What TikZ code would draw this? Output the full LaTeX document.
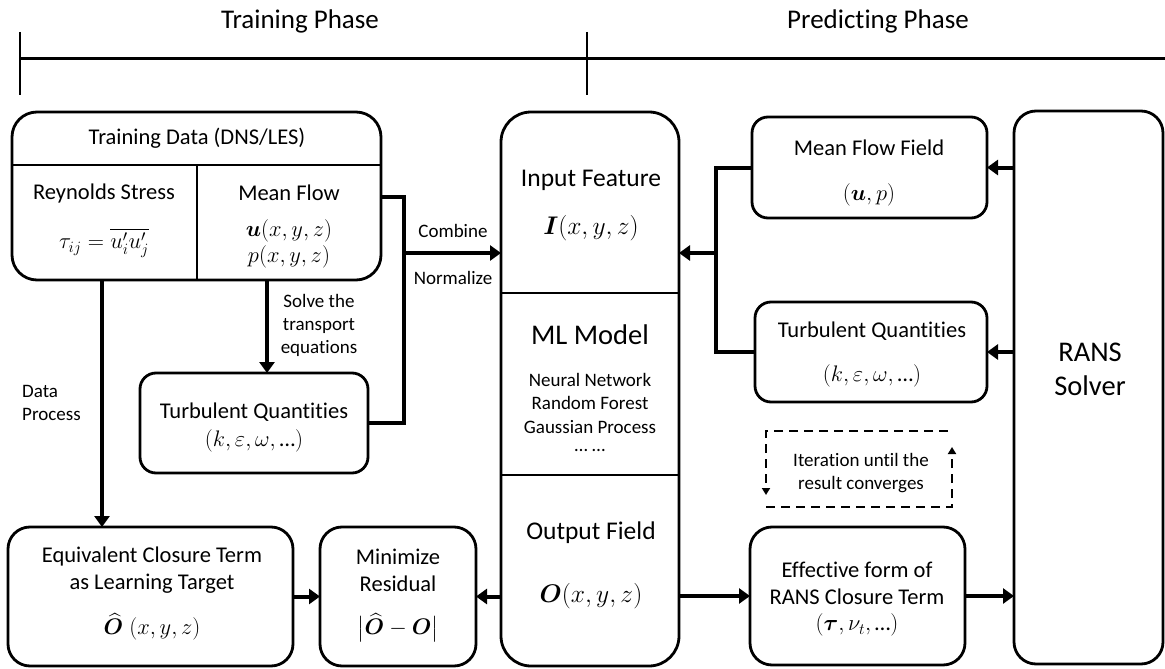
\RequirePackage{fix-cm}
\documentclass[tikz,border=0pt]{standalone}
\usepackage{amsmath}
\usepackage{bm}
\usepackage{fontspec}
\setmainfont{Carlito}[Ligatures=NoCommon]
\usetikzlibrary{arrows.meta}
\begin{document}
\begin{tikzpicture}[x=1pt,y=-1pt,
  box/.style={draw, line width=2.8pt, rounded corners=#1, inner sep=0pt, outer sep=0pt},
  box/.default=16pt,
  conn/.style={line width=4pt},
  arr/.style={line width=4pt, -{Triangle[length=11pt,width=15pt]}},
  div/.style={line width=2pt},
  dsh/.style={line width=2.5pt, dash pattern=on 9pt off 6pt, -{Triangle[length=7pt,width=8pt]}},
  lbl/.style={inner sep=0pt, align=center},
  tA/.style={font=\fontsize{19}{23}\selectfont},
  tB/.style={font=\fontsize{22.5}{27}\selectfont},
  tC/.style={font=\fontsize{25.5}{30}\selectfont},
  tD/.style={font=\fontsize{28.5}{34}\selectfont},
  tE/.style={font=\fontsize{27}{32}\selectfont}]
\useasboundingbox (0,0) rectangle (1165,669);

% timeline
\coordinate (tl) at (20,59);
\coordinate (tr) at (1165,59);
\coordinate (t1a) at (20,32);
\coordinate (t1b) at (20,95);
\coordinate (t2a) at (587,32);
\coordinate (t2b) at (587,95);
\draw[line width=3pt] (tl) -- (tr);
\draw[line width=1.6pt] (t1a) -- (t1b);
\draw[line width=1.6pt] (t2a) -- (t2b);
\node[lbl,tE] (trainph) at (300,21) {Training Phase};
\node[lbl,tE] (predph) at (878,21) {Predicting Phase};

% boxes
\node[box=25pt, minimum width=369pt, minimum height=168pt] (td) at (196.5,196) {};
\node[box=30pt, minimum width=178pt, minimum height=554pt] (inbox) at (590,389) {};
\node[box=16pt, minimum width=235pt, minimum height=101pt] (mff) at (869.5,167.5) {};
\node[box=16pt, minimum width=232pt, minimum height=100pt] (tqr) at (871,352) {};
\node[box=22pt, minimum width=149pt, minimum height=553pt] (rans) at (1088.5,387.5) {};
\node[box=16pt, minimum width=228pt, minimum height=100pt] (tql) at (254,423) {};
\node[box=22pt, minimum width=285pt, minimum height=139pt] (eq) at (150.5,596.5) {};
\node[box=22pt, minimum width=156pt, minimum height=139pt] (mn) at (398,596.5) {};
\node[box=22pt, minimum width=215pt, minimum height=138pt] (eff) at (857.5,596) {};

% dividers
\coordinate (h1) at (0,165);
\coordinate (v1) at (197,0);
\coordinate (h2) at (0,293);
\coordinate (h3) at (0,475);
\draw[div] (td.west |- h1) -- (td.east |- h1);
\draw[div] (v1 |- h1) -- (v1 |- td.south);
\draw[div] (inbox.west |- h2) -- (inbox.east |- h2);
\draw[div] (inbox.west |- h3) -- (inbox.east |- h3);

% texts: training data
\node[lbl,tB] (tdh) at (197,138) {Training Data (DNS/LES)};
\node[lbl,tB] (rs) at (104,193) {Reynolds Stress};
\node[lbl,tB] (rsm) at (104,243) {$\tau_{ij}=\overline{u_i'u_j'}$};
\node[lbl,tB] (mf) at (289,193) {Mean Flow};
\node[lbl,tB] (mf1) at (289,231) {$\bm{u}(x,y,z)$};
\node[lbl,tB] (mf2) at (289,257) {$p(x,y,z)$};

% input / ML / output
\node[lbl,tC] (inf) at (591,180) {Input Feature};
\node[lbl,tC] (infm) at (591,228) {$\bm{I}(x,y,z)$};
\node[lbl,tD] (mlm) at (590,335) {ML Model};
\node[lbl,tA] (ml1) at (590,380) {Neural Network};
\node[lbl,tA] (ml2) at (590,403) {Random Forest};
\node[lbl,tA] (ml3) at (590,427) {Gaussian Process};
\node[lbl,tA] (ml4) at (590,450) {… …};
\node[lbl,tC] (outf) at (591,533) {Output Field};
\node[lbl,tC] (outm) at (591,596) {$\bm{O}(x,y,z)$};

% side labels
\node[lbl,tA] (comb) at (453,231) {Combine};
\node[lbl,tA] (norm) at (453,278) {Normalize};
\node[lbl,tA] (solve) at (319,325) {Solve the\\transport\\equations};
\node[lbl,tA,anchor=west,align=left] (dp) at (22,403) {Data\\Process};

% turbulent left
\node[lbl,tB] (tqlt) at (254,412) {Turbulent Quantities};
\node[lbl,tB] (tqlm) at (254,441) {$(k,\varepsilon,\omega,\text{…})$};

% right side
\node[lbl,tB] (mfft) at (869,148) {Mean Flow Field};
\node[lbl,tB] (mffm) at (869,195) {$(\bm{u},p)$};
\node[lbl,tB] (tqrt) at (872,331) {Turbulent Quantities};
\node[lbl,tB] (tqrm) at (872,376) {$(k,\varepsilon,\omega,\text{…})$};
\node[lbl,tD] (ranst) at (1090,369) {RANS\\Solver};
\node[lbl,tA] (iter) at (861,473) {Iteration until the\\result converges};
\node[lbl,tB] (efft) at (857,583) {Effective form of\\RANS Closure Term};
\node[lbl,tB] (effm) at (857,625) {$(\bm{\tau},\nu_t,\text{…})$};

% bottom left
\node[lbl,tB] (eqt) at (152,570) {Equivalent Closure Term\\as Learning Target};
\node[lbl,tB] (eqm) at (152,627) {$\widehat{\bm{O}}\;(x,y,z)$};
\node[lbl,tB] (mnt) at (398,570) {Minimize\\Residual};
\node[lbl,tB] (mnm) at (398,628) {$\bigl|\widehat{\bm{O}}-\bm{O}\bigr|$};

% connectors
\coordinate (j1) at (404,253);
\coordinate (j2) at (716,253);
\coordinate (mfy) at (0,197);
\coordinate (solvex) at (267,0);
\coordinate (dpx) at (102,0);
\draw[conn] (td.east |- mfy) -| (j1);
\draw[conn] (tql.east) -| (j1);
\draw[arr] (j1) -- (inbox.west |- j1);
\draw[arr] (solvex |- td.south) -- (solvex |- tql.north);
\draw[arr] (dpx |- td.south) -- (dpx |- eq.north);
\draw[arr] (eq.east) -- (mn.west);
\draw[arr] (inbox.west |- mn.east) -- (mn.east);
\draw[arr] (inbox.east |- eff.west) -- (eff.west);
\draw[arr] (eff.east) -- (rans.west |- eff.east);
\draw[arr] (rans.west |- mff.east) -- (mff.east);
\draw[arr] (rans.west |- tqr.east) -- (tqr.east);
\draw[conn] (mff.west) -| (j2);
\draw[conn] (tqr.west) -| (j2);
\draw[arr] (j2) -- (inbox.east |- j2);

% iteration dashed loop
\coordinate (dbl) at (766,507);
\coordinate (dbr) at (952,507);
\coordinate (dru) at (952,447);
\coordinate (dtr) at (948,431);
\coordinate (dtl) at (766,431);
\coordinate (dld) at (766,495);
\draw[dsh] (dbl) -- (dbr) -- (dru);
\draw[dsh] (dtr) -- (dtl) -- (dld);
\end{tikzpicture}
\end{document}
